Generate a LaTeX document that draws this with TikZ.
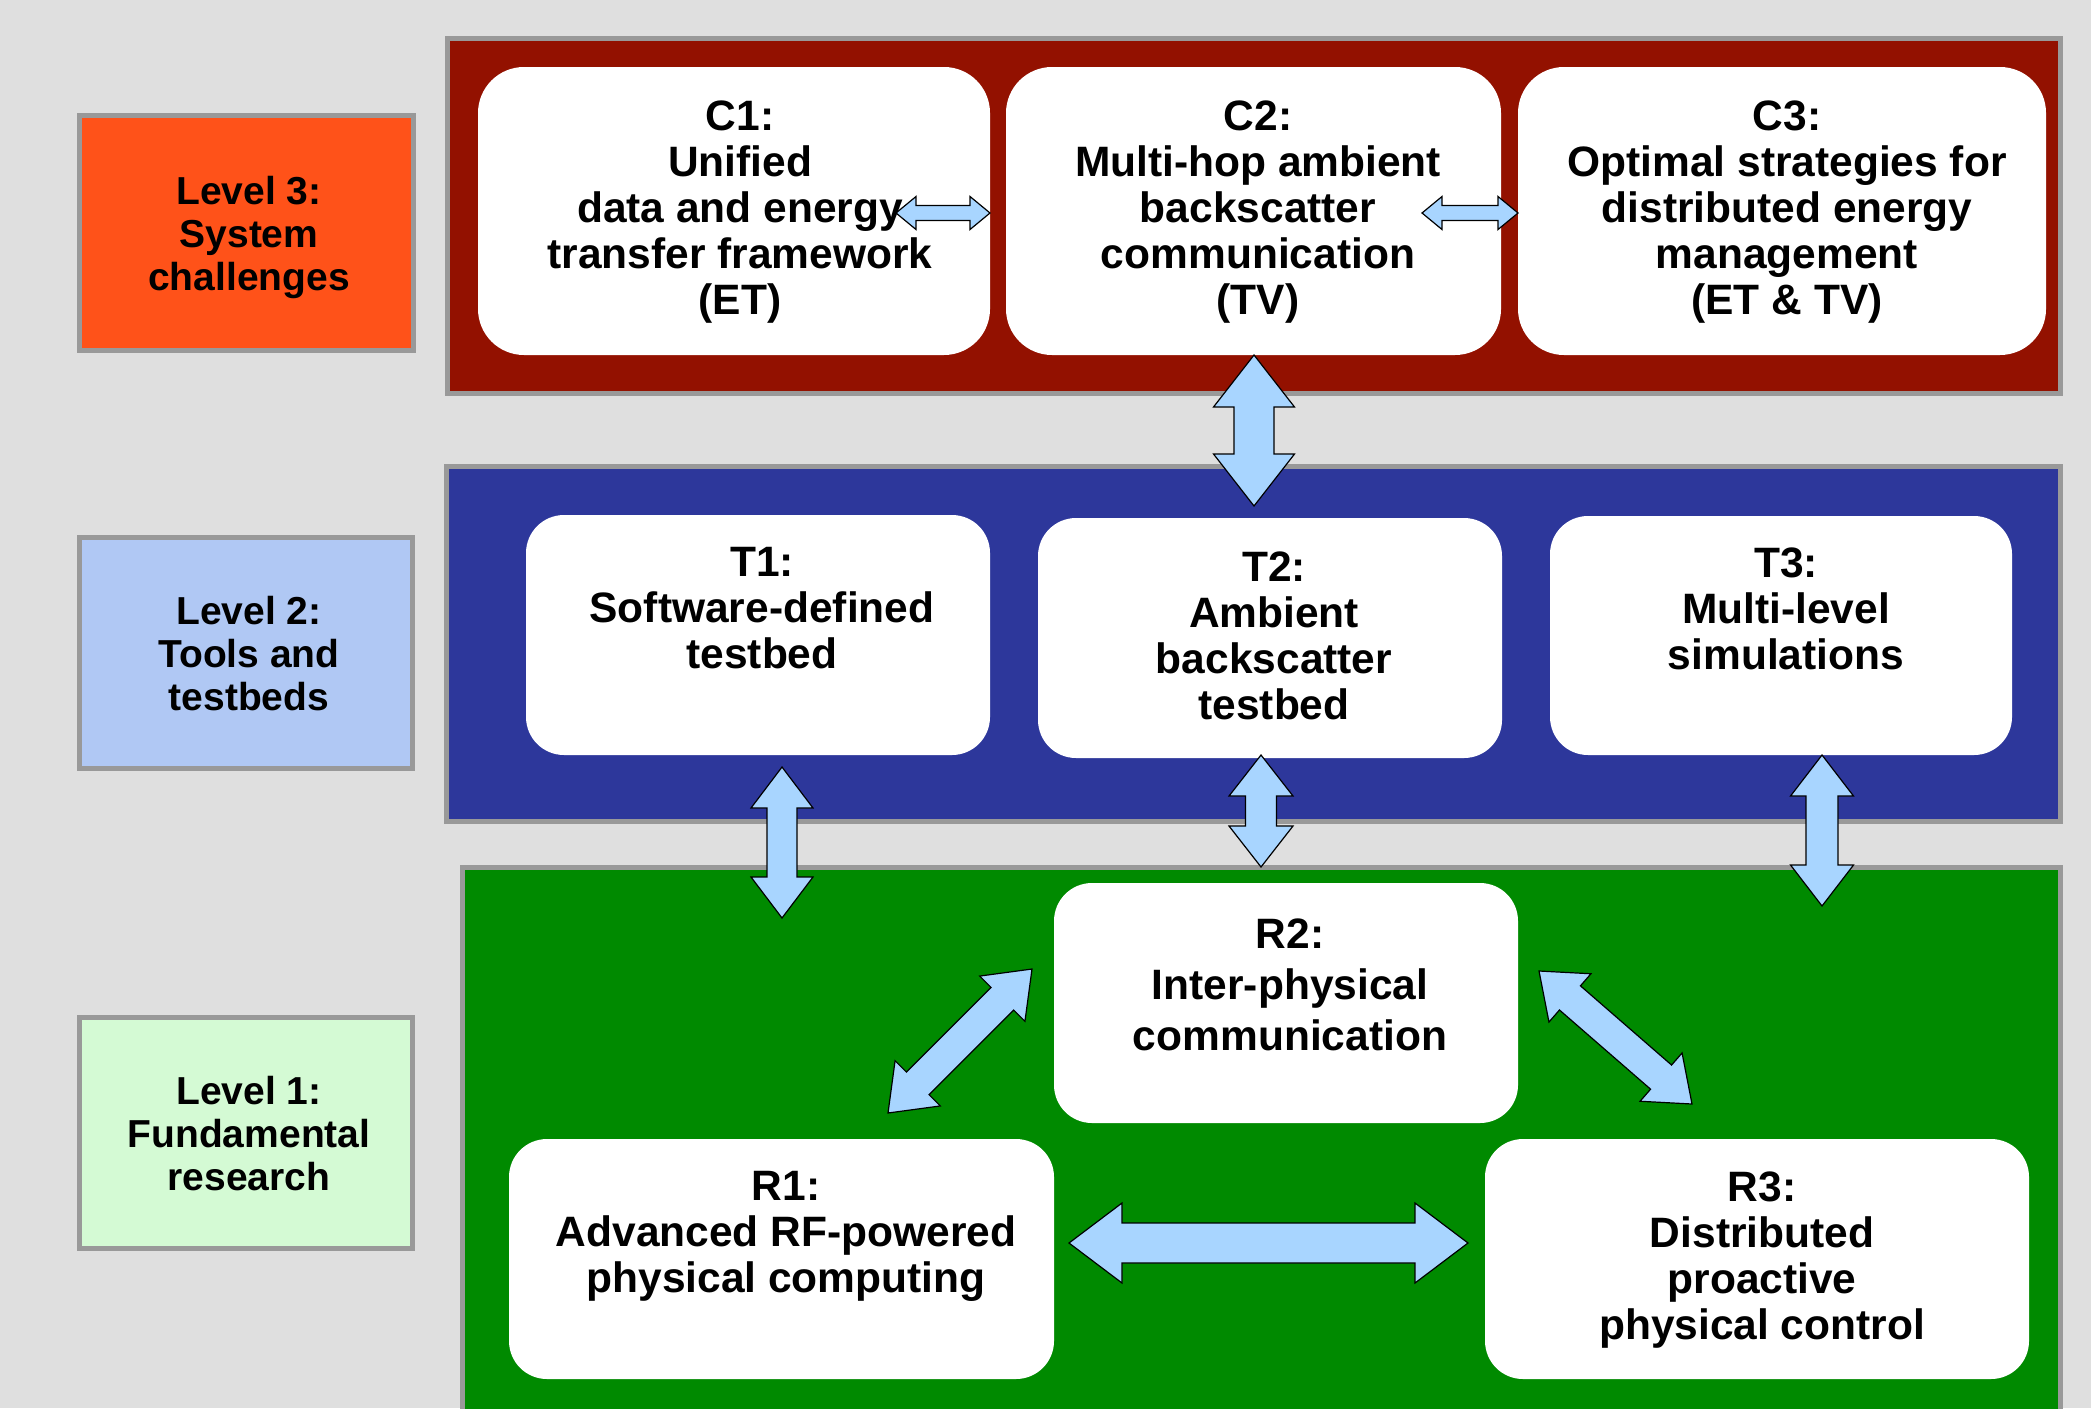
\documentclass[tikz,border=0pt]{standalone}
\usepackage{fontspec}
\setmainfont{Liberation Sans}
\usetikzlibrary{calc,fit}
\definecolor{bgcol}{HTML}{DFDFDF}
\definecolor{bordergray}{HTML}{999999}
\definecolor{lvlthree}{HTML}{FF5219}
\definecolor{lvltwo}{HTML}{B0C8F4}
\definecolor{lvlone}{HTML}{D4FAD4}
\definecolor{bandred}{HTML}{931100}
\definecolor{bandblue}{HTML}{2D379B}
\definecolor{bandgreen}{HTML}{008A00}
\definecolor{arrowblue}{HTML}{A8D5FF}
\newcommand{\dblarrow}[5]{%
  \coordinate (#1-h) at ($(#1)!#3!(#2)$);
  \coordinate (#2-h) at ($(#2)!#3!(#1)$);
  \draw[arrowshape] (#1) -- ($(#1-h)!#4!90:(#2)$) -- ($(#1-h)!#5!90:(#2)$)
    -- ($(#2-h)!#5!-90:(#1)$) -- ($(#2-h)!#4!-90:(#1)$) -- (#2)
    -- ($(#2-h)!#4!90:(#1)$) -- ($(#2-h)!#5!90:(#1)$)
    -- ($(#1-h)!#5!-90:(#2)$) -- ($(#1-h)!#4!-90:(#2)$) -- cycle;
}
\tikzset{
  lvlbox/.style={rectangle, draw=bordergray, line width=2.5pt, inner sep=0pt},
  band/.style={rectangle, draw=bordergray, line width=2.5pt, inner sep=0pt},
  cbox/.style={rectangle, fill=white, draw=none, rounded corners=23pt, inner sep=0pt},
  tbox/.style={rectangle, fill=white, draw=none, rounded corners=19pt, inner sep=0pt},
  btxt/.style={align=center, inner sep=0pt, anchor=north, font=\fontsize{21.25pt}{23pt}\selectfont\bfseries},
  rtxt/.style={align=center, inner sep=0pt, anchor=north, font=\fontsize{21.25pt}{25.5pt}\selectfont\bfseries},
  ltxt/.style={align=center, inner sep=0pt, anchor=north, font=\fontsize{19.5pt}{21.5pt}\selectfont\bfseries},
  arrowshape/.style={fill=arrowblue, draw=black, line width=0.6pt, line join=miter}
}
\begin{document}
\begin{tikzpicture}[x=0.5pt,y=-0.5pt]
\useasboundingbox (0,0) rectangle (2091,1408);
\clip (0,0) rectangle (2091,1408);
\fill[bgcol] (0,0) rectangle (2091,1408);

% level boxes
\node[lvlbox, fill=lvlthree, fit={(79.5,115.5) (413.5,350.5)}] (L3) {};
\node[lvlbox, fill=lvltwo, fit={(79.5,537.5) (412.5,768.5)}] (L2) {};
\node[lvlbox, fill=lvlone, fit={(79.5,1017.5) (412.5,1248.5)}] (L1) {};
\node[ltxt] (L3t) at (249,176) {Level 3:\\System\\challenges};
\node[ltxt] (L2t) at (249,596) {Level 2:\\Tools and\\testbeds};
\node[ltxt] (L1t) at (249,1076) {Level 1:\\Fundamental\\research};

% bands
\node[band, fill=bandred, fit={(447.5,38.5) (2060.5,393.5)}] (B3) {};
\node[band, fill=bandblue, fit={(446.5,466.5) (2060.5,821.5)}] (B2) {};
\node[band, fill=bandgreen, fit={(462.5,867.5) (2060.5,1440)}] (B1) {};

% white boxes
\node[cbox, fit={(478,67) (990,355)}] (C1) {};
\node[cbox, fit={(1006,67) (1501,355)}] (C2) {};
\node[cbox, fit={(1518,67) (2046,355)}] (C3) {};
\node[tbox, fit={(526,515) (990,755)}] (T1) {};
\node[tbox, fit={(1038,518) (1502,758)}] (T2) {};
\node[tbox, fit={(1550,516) (2012,755)}] (T3) {};
\node[tbox, fit={(1054,883) (1518,1123)}] (R2) {};
\node[tbox, fit={(509,1139) (1054,1379)}] (R1) {};
\node[tbox, fit={(1485,1139) (2029,1379)}] (R3) {};

% texts
\node[btxt] (C1t) at (740,100) {C1:\\Unified\\data and energy\\transfer framework\\(ET)};
\node[btxt] (C2t) at (1258,100) {C2:\\Multi-hop ambient\\backscatter\\communication\\(TV)};
\node[btxt] (C3t) at (1787,100) {C3:\\Optimal strategies for\\distributed energy\\management\\(ET \& TV)};
\node[btxt] (T1t) at (762,547) {T1:\\Software-defined\\testbed};
\node[btxt] (T2t) at (1274,551) {T2:\\Ambient\\backscatter\\testbed};
\node[btxt] (T3t) at (1786,547) {T3:\\Multi-level\\simulations};
\node[rtxt] (R2t) at (1290,918) {R2:\\Inter-physical\\communication};
\node[btxt] (R1t) at (786,1171) {R1:\\Advanced RF-powered\\physical computing};
\node[btxt] (R3t) at (1762,1171) {R3:\\Distributed\\proactive\\physical control};

% arrow end points
\coordinate (a1s) at (896,213);   \coordinate (a1e) at (990,213);
\coordinate (a2s) at (1422,213);  \coordinate (a2e) at (1518,213);
\coordinate (a3s) at (1254,355);  \coordinate (a3e) at (1254,506);
\coordinate (a4s) at (782,767);   \coordinate (a4e) at (782,918);
\coordinate (a5s) at (1261,755);  \coordinate (a5e) at (1261,867);
\coordinate (a6s) at (1822,755);  \coordinate (a6e) at (1822,906);
\coordinate (a7s) at (888,1113);  \coordinate (a7e) at (1032,969);
\coordinate (a8s) at (1539,971);  \coordinate (a8e) at (1692,1104);
\coordinate (a9s) at (1069,1243); \coordinate (a9e) at (1468,1243);

\dblarrow{a1s}{a1e}{10pt}{8.25pt}{3.75pt}
\dblarrow{a2s}{a2e}{10pt}{8.25pt}{3.75pt}
\dblarrow{a3s}{a3e}{26pt}{20.25pt}{10pt}
\dblarrow{a4s}{a4e}{20.5pt}{15.5pt}{7.5pt}
\dblarrow{a5s}{a5e}{20.5pt}{16pt}{7.75pt}
\dblarrow{a6s}{a6e}{20.5pt}{15.75pt}{8pt}
\dblarrow{a7s}{a7e}{21pt}{16pt}{8pt}
\dblarrow{a8s}{a8e}{20.5pt}{16pt}{8pt}
\dblarrow{a9s}{a9e}{26.5pt}{20pt}{10pt}
\end{tikzpicture}
\end{document}
